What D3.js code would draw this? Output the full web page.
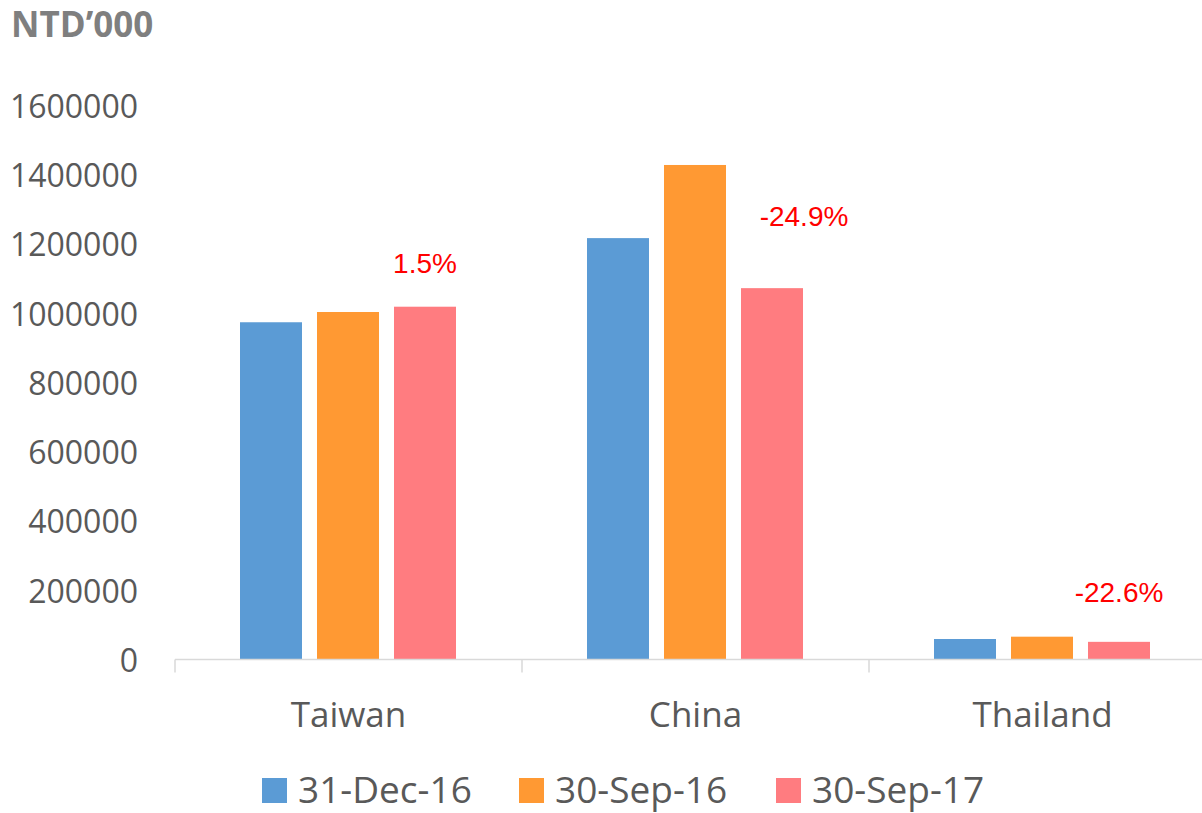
<!DOCTYPE html>
<html>
<head>
<meta charset="utf-8">
<script src="https://cdn.jsdelivr.net/npm/d3@7"></script>
<style>
  body { margin: 0; background: #fff; }
  svg { display: block; }
</style>
</head>
<body>
<div id="chart"></div>
<script>
// data
var categories = ["Taiwan", "China", "Thailand"];
var seriesNames = ["31-Dec-16", "30-Sep-16", "30-Sep-17"];
var dec16 = [974000, 1217000, 59200];
var sep16 = [1003600, 1428200, 65900];
var sep17 = [1018900, 1072500, 51000];
var changeLabels = ["1.5%", "-24.9%", "-22.6%"];
var yTicks = [0, 200000, 400000, 600000, 800000, 1000000, 1200000, 1400000, 1600000];

var colors = ["#5b9bd5", "#ff9933", "#ff7c80"];
// nudges for the % labels (dx, dy from the top of the last bar)
var labelNudge = [[0, -34], [32, -62], [0, -40]];

var W = 1202, H = 813;
var svg = d3.select("#chart").append("svg")
    .attr("width", W)
    .attr("height", H);

var table = categories.map(function(c, i) {
    return { cat: c, vals: [dec16[i], sep16[i], sep17[i]] };
});

var x = d3.scaleBand().domain(categories).range([175, 1216]).paddingInner(0).paddingOuter(0);
var xs = d3.scaleBand().domain(d3.range(3)).range([65, 281]).paddingInner(15 / 77).paddingOuter(0);
var y = d3.scaleLinear().domain([0, 1600000]).range([659.5, 105.5]);

// title
svg.append("text")
    .attr("x", 11).attr("y", 37)
    .attr("font-family", "Open Sans")
    .attr("font-weight", "bold")
    .attr("font-size", 35)
    .attr("fill", "#7f7f7f")
    .text("NTD\u2019000");

// y labels
var yAxis = svg.append("g")
    .attr("transform", "translate(138,0)")
    .call(d3.axisLeft(y).tickValues(yTicks).tickSize(0).tickPadding(0).tickFormat(d3.format("d")));
yAxis.select(".domain").remove();
yAxis.selectAll("text")
    .attr("font-family", "Open Sans")
    .attr("font-size", 32)
    .attr("fill", "#595959")
    .attr("dy", "0.37em");

// bars
var groups = svg.selectAll("g.cat").data(table).enter().append("g")
    .attr("class", "cat")
    .attr("transform", function(d) { return "translate(" + x(d.cat) + ",0)"; });

groups.selectAll("rect").data(function(d) { return d.vals; }).enter().append("rect")
    .attr("x", function(d, i) { return xs(i); })
    .attr("y", function(d) { return y(d); })
    .attr("width", xs.bandwidth())
    .attr("height", function(d) { return y(0) - y(d); })
    .attr("fill", function(d, i) { return colors[i]; });

// x axis line + ticks
svg.append("line")
    .attr("x1", 175).attr("x2", W)
    .attr("y1", y(0)).attr("y2", y(0))
    .attr("stroke", "#d9d9d9").attr("stroke-width", 1.5);
svg.selectAll("line.tk").data(categories).enter().append("line")
    .attr("class", "tk")
    .attr("x1", function(d) { return x(d); })
    .attr("x2", function(d) { return x(d); })
    .attr("y1", y(0)).attr("y2", y(0) + 13)
    .attr("stroke", "#d9d9d9").attr("stroke-width", 1.5);

// category labels
svg.selectAll("text.cat").data(categories).enter().append("text")
    .attr("class", "cat")
    .attr("x", function(d) { return x(d) + x.bandwidth() / 2; })
    .attr("y", 727)
    .attr("text-anchor", "middle")
    .attr("font-family", "Open Sans")
    .attr("font-size", 35)
    .attr("fill", "#595959")
    .text(function(d) { return d; });

// change labels
svg.selectAll("text.chg").data(table).enter().append("text")
    .attr("class", "chg")
    .attr("x", function(d, i) { return x(d.cat) + xs(2) + xs.bandwidth() / 2 + labelNudge[i][0]; })
    .attr("y", function(d, i) { return y(d.vals[2]) + labelNudge[i][1]; })
    .attr("text-anchor", "middle")
    .attr("font-family", "Liberation Sans")
    .attr("font-size", 28)
    .attr("fill", "#ff0000")
    .text(function(d, i) { return changeLabels[i]; });

// legend
var leg = svg.selectAll("g.leg").data(seriesNames).enter().append("g")
    .attr("class", "leg")
    .attr("transform", function(d, i) { return "translate(" + (262 + i * 257) + ",778)"; });
leg.append("rect")
    .attr("width", 25).attr("height", 25)
    .attr("fill", function(d, i) { return colors[i]; });
leg.append("text")
    .attr("x", 36).attr("y", 25)
    .attr("font-family", "Open Sans")
    .attr("font-size", 37)
    .attr("fill", "#595959")
    .text(function(d) { return d; });
</script>
</body>
</html>
